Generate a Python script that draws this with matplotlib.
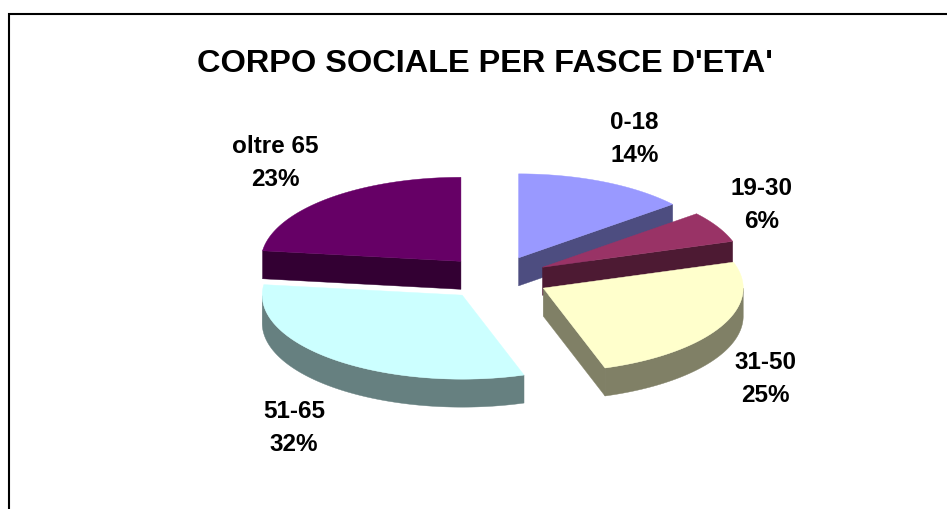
import numpy as np
import matplotlib
matplotlib.use('Agg')
import matplotlib.pyplot as plt
import matplotlib.colors as mcolors
from matplotlib.patches import Polygon

# dati
categories = ['0-18', '19-30', '31-50', '51-65', 'oltre 65']
shares = [14, 6, 25, 32, 23]
top_colors = ['#9999FF', '#993366', '#FFFFCC', '#CCFFFF', '#660066']
title = "CORPO SOCIALE PER FASCE D'ETA'"

W, H = 947, 509
cx, cy = 496, 278      # centro della torta (px)
a, b = 200, 84         # semiassi dell'ellisse
depth = 28             # spessore 3D
explode = 0.265

plt.rcParams['font.family'] = ['Liberation Sans', 'DejaVu Sans']


def shade(c, f=0.5):
    r, g, bl = mcolors.to_rgb(c)
    return (r * f, g * f, bl * f)


def rim(t, ox, oy, dz=0.0):
    return np.column_stack([ox + a * np.cos(t), oy - b * np.sin(t) + dz])


fig = plt.figure(figsize=(W / 100, H / 100), dpi=100)
ax = fig.add_axes([0, 0, 1, 1])
ax.set_xlim(0, W)
ax.set_ylim(H, 0)
ax.axis('off')

total = float(sum(shares))
ends = 90 - 360 * np.cumsum(shares) / total
starts = np.r_[90, ends[:-1]]

walls = []
tops = []
for i in range(len(shares)):
    t1, t2 = np.radians(ends[i]), np.radians(starts[i])
    m = (t1 + t2) / 2
    ox = cx + explode * a * np.cos(m)
    oy = cy - explode * b * np.sin(m)
    col = top_colors[i]
    side = shade(col)

    t = np.linspace(t1, t2, 200)
    tops.append((np.vstack([[ox, oy], rim(t, ox, oy)]), col))

    # parete curva frontale
    idx = np.flatnonzero(np.sin(t) < 0)
    if idx.size:
        runs = np.split(idx, np.flatnonzero(np.diff(idx) > 1) + 1)
        for r in runs:
            tt = t[r]
            poly = np.vstack([rim(tt, ox, oy), rim(tt[::-1], ox, oy, depth)])
            walls.append((poly[:, 1].mean(), poly, side))

    # pareti radiali
    for te, vis in ((t1, np.cos(t1) > 1e-9), (t2, np.cos(t2) < -1e-9)):
        if vis:
            p = rim(np.array([te]), ox, oy)[0]
            poly = np.array([[ox, oy], p, [p[0], p[1] + depth], [ox, oy + depth]])
            walls.append((poly[:, 1].mean(), poly, side))

for _, poly, c in sorted(walls, key=lambda w: w[0]):
    ax.add_patch(Polygon(poly, closed=True, facecolor=c, edgecolor=c, lw=0.3))
for poly, c in tops:
    ax.add_patch(Polygon(poly, closed=True, facecolor=c, edgecolor=c, lw=0.3))

# etichette
for i, cat in enumerate(categories):
    m = np.radians((ends[i] + starts[i]) / 2)
    c, s = np.cos(m), np.sin(m)
    lx = cx + 1.34 * a * c
    ly = cy - 1.86 * b * s + (depth if s < 0 else 0) + 2
    pct = round(100 * shares[i] / total)
    ax.text(lx, ly, f'{cat}\n{pct}%', ha='left' if c > 0 else 'right',
            va='center', multialignment='center', fontsize=17.5,
            fontweight='bold', linespacing=1.55)

ax.text(485, 71.5, title, ha='center', va='baseline', fontsize=23.4,
        fontweight='bold')

# cornice
ax.plot([9, 9, W + 10], [H + 10, 14.3, 14.3], color='black', lw=1.5,
        solid_joinstyle='miter')

fig.savefig('out.png', dpi=100)
